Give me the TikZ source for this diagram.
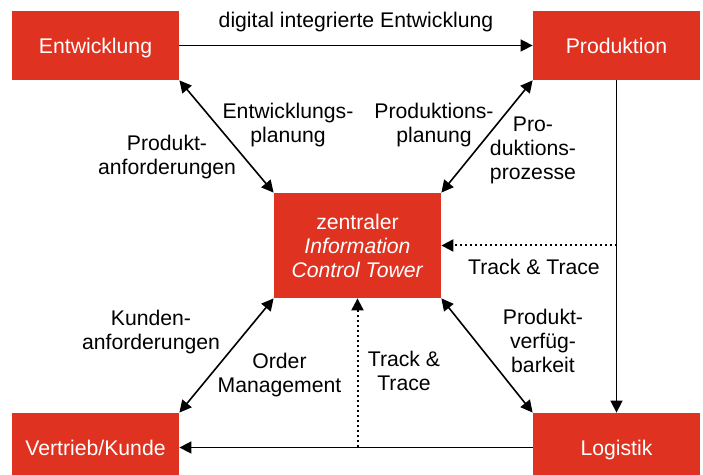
\documentclass[tikz,border=0pt]{standalone}
\usepackage{fontspec}
\setmainfont{Liberation Sans}
\usetikzlibrary{arrows.meta, positioning}
\definecolor{towerred}{RGB}{224,50,32}
\tikzstyle{block} = [rectangle, minimum width=83.5pt, minimum height=34.5pt, inner sep=0pt, text height=7.8pt, text depth=0pt, text centered, fill=towerred, text=white, align=center]
\tikzstyle{tower} = [block, minimum height=52.5pt, text height=, text depth=]
\tikzstyle{flowtext} = [align=center, inner sep=0pt]
\tikzstyle{arrow} = [line width=0.8pt, -{Triangle[length=6pt, width=6pt]}]
\tikzstyle{biarrow} = [arrow, {Triangle[length=6pt, width=6pt]}-{Triangle[length=6pt, width=6pt]}]
\tikzstyle{dotarrow} = [arrow, line width=1pt, dash pattern=on 1pt off 1.5pt]

\begin{document}
\begin{tikzpicture}[x=0.5pt, y=-0.5pt, node distance=260.5pt, font=\fontsize{10.6}{12}\selectfont]

\useasboundingbox (0,0) rectangle (703,475);

\node (entw) [block] at (95.5,45.5) {Entwicklung};
\node (prod) [block, right of=entw] {Produktion};
\node (ict) [tower, below of=entw, node distance=100pt, xshift=131pt] {zentraler\\\textit{Information}\\\textit{Control Tower}};
\node (vert) [block, below of=entw, node distance=201pt] {Vertrieb/Kunde};
\node (logi) [block, right of=vert] {Logistik};

\coordinate (ttr) at (prod.south |- ict.east);
\coordinate (ttb) at (ict.south |- vert);

% Beschriftungen
\node (panf) [flowtext] at (167,157) {Produkt-\\anforderungen};
\node (eplan) [flowtext] at (288,125) {Entwicklungs-\\planung};
\node (pplan) [flowtext] at (434,125) {Produktions-\\planung};
\node (pproz) [flowtext] at (533,150) {Pro-\\duktions-\\prozesse};
\node (ttrl) [flowtext] at (534,267) {Track \& Trace};
\node (kanf) [flowtext] at (151,332) {Kunden-\\anforderungen};
\node (order) [flowtext] at (279.5,375) {Order\\Management};
\node (ttbl) [flowtext] at (404,371) {Track \&\\Trace};
\node (pverf) [flowtext] at (543,340.5) {Produkt-\\verfüg-\\barkeit};

\draw [arrow] (entw) -- node (dig) [anchor=south, yshift=3pt] {digital integrierte Entwicklung} (prod);
\draw [arrow] (prod) -- (logi);
\draw [arrow] (logi) -- (vert);
\draw [biarrow] (entw.south east) -- (ict.north west);
\draw [biarrow] (prod.south west) -- (ict.north east);
\draw [biarrow] (ict.south west) -- (vert.north east);
\draw [biarrow] (ict.south east) -- (logi.north west);
\draw [dotarrow] (ttr) -- (ict.east);
\draw [dotarrow] (ttb) -- (ict.south);

\end{tikzpicture}
\end{document}
